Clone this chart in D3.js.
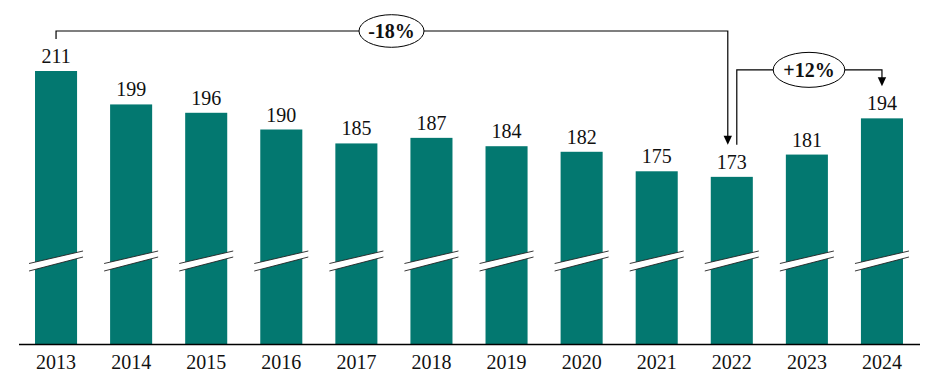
<!DOCTYPE html>
<html><head><meta charset="utf-8">
<script src="https://cdn.jsdelivr.net/npm/d3@7"></script>
<style>
html,body{margin:0;padding:0;background:#fff;}
svg{display:block;}
text{font-family:"Liberation Serif","Times New Roman",serif;}
</style></head>
<body>
<script>
const years = ["2013","2014","2015","2016","2017","2018","2019","2020","2021","2022","2023","2024"];
const values = [211,199,196,190,185,187,184,182,175,173,181,194];
const changeLabels = ["-18%","+12%"];

const W = 941, H = 386;
const svg = d3.select("body").append("svg").attr("width", W).attr("height", H);

const x = d3.scaleBand().domain(years).range([18.5, 919.5]).paddingInner(0.44).paddingOuter(0.22);
const y = d3.scaleLinear().domain([113, 211]).range([344, 71]);
const teal = "#037870";
const cx = yr => x(yr) + x.bandwidth() / 2;

// bars
svg.selectAll("rect.bar").data(years).enter().append("rect")
  .attr("x", d => x(d)).attr("width", x.bandwidth())
  .attr("y", (d, i) => y(values[i])).attr("height", (d, i) => y.range()[0] - y(values[i]))
  .attr("fill", teal);

// break marks
const brkY = 260.5;
years.forEach(yr => {
  const c = cx(yr);
  const g = svg.append("g");
  const x0 = c - 27, x1 = c + 27;
  g.append("path")
    .attr("d", `M${x0},${brkY+3} L${x1},${brkY-9.5} L${x1},${brkY-3.5} L${x0},${brkY+10.5} Z`)
    .attr("fill", "#fff");
  g.append("line").attr("x1", x0).attr("y1", brkY+3).attr("x2", x1).attr("y2", brkY-9.5)
    .attr("stroke", "#222").attr("stroke-width", 0.9);
  g.append("line").attr("x1", x0).attr("y1", brkY+10.5).attr("x2", x1).attr("y2", brkY-3.5)
    .attr("stroke", "#222").attr("stroke-width", 0.9);
});

// value labels
svg.selectAll("text.val").data(years).enter().append("text")
  .attr("x", d => cx(d)).attr("y", (d, i) => y(values[i]) - 8)
  .attr("text-anchor", "middle").attr("font-size", 20).attr("fill", "#111")
  .text((d, i) => values[i]);

// x axis
const ax = svg.append("g").attr("transform", `translate(0,${y.range()[0]})`)
  .call(d3.axisBottom(x).tickSize(0).tickSizeOuter(0));
ax.select(".domain").attr("stroke", "#000").attr("stroke-width", 1.3);
ax.selectAll("text").attr("y", 25).attr("dy", 0).attr("font-size", 20)
  .attr("font-family", "Liberation Serif, Times New Roman, serif").attr("fill", "#111");

// annotations
function arrowHead(xt, yt) {
  svg.append("path").attr("d", `M${xt-4.2},${yt-9} L${xt+4.2},${yt-9} L${xt},${yt} Z`).attr("fill", "#000");
}
function bubble(xc, yc, rx, ry, label) {
  svg.append("ellipse").attr("cx", xc).attr("cy", yc).attr("rx", rx).attr("ry", ry)
    .attr("fill", "#fff").attr("stroke", "#000").attr("stroke-width", 1);
  svg.append("text").attr("x", xc).attr("y", yc + 7).attr("text-anchor", "middle")
    .attr("font-size", 20).attr("font-weight", "bold").attr("fill", "#111").text(label);
}

// -18%: 2013 -> 2022
const a1x0 = cx(years[0]), a1x1 = cx(years[9]) - 4;
const a1y = y(values[0]) - 40;
const a1tip = y(values[9]) - 32;
svg.append("path")
  .attr("d", `M${a1x0},${y(values[0]) - 32} V${a1y} H${a1x1} V${a1tip - 8}`)
  .attr("fill", "none").attr("stroke", "#000").attr("stroke-width", 1.2);
arrowHead(a1x1, a1tip);
bubble(391.5, a1y, 32.5, 16.3, changeLabels[0]);

// +12%: 2022 -> 2024
const a2x0 = cx(years[9]) + 5, a2x1 = cx(years[11]);
const a2y = y(values[11]) - 48.5;
const a2tip = y(values[11]) - 32;
svg.append("path")
  .attr("d", `M${a2x0},${a1tip} V${a2y} H${a2x1} V${a2tip - 8}`)
  .attr("fill", "none").attr("stroke", "#000").attr("stroke-width", 1.2);
arrowHead(a2x1, a2tip);
bubble(809, a2y, 35.8, 17.5, changeLabels[1]);
</script>
</body></html>
